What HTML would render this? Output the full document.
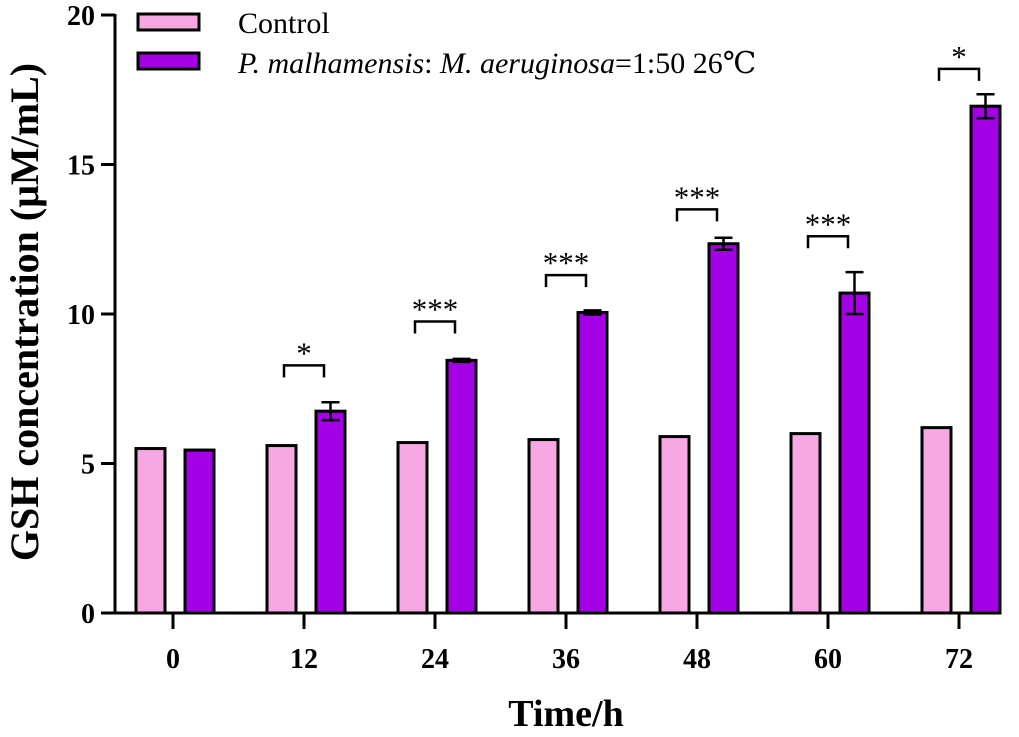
<!DOCTYPE html>
<html><head><meta charset="utf-8"><style>
body{margin:0;background:#fff;}
svg text{font-family:"Liberation Serif","DejaVu Serif",serif;}
</style></head><body>
<svg id="chart" width="1019" height="732" viewBox="0 0 1019 732" xmlns="http://www.w3.org/2000/svg">
<g id="plot"></g>
</svg>
<script>
const categories=["0","12","24","36","48","60","72"];
const controlValues=[5.5,5.6,5.7,5.8,5.9,6.0,6.2];
const treatValues=[5.45,6.75,8.45,10.05,12.35,10.7,16.95];
const treatErrors=[0,0.3,0.05,0.07,0.2,0.7,0.4];
const sigLabels=["","*","***","***","***","***","*"];
const sigLevels=[0,8.28,9.75,11.3,13.5,12.6,18.2];
const yTicks=[0,5,10,15,20];

const NS="http://www.w3.org/2000/svg";
const g=document.getElementById('plot');
const x0=115,yBase=613,yTop=15,yMax=20;
const y=v=>yBase-(yBase-yTop)*v/yMax;
const xc=i=>173+i*131;
function el(t,a,txt){const e=document.createElementNS(NS,t);for(const k in a)e.setAttribute(k,a[k]);if(txt!==undefined)e.textContent=txt;g.appendChild(e);return e;}

categories.forEach((c,i)=>{
  const cx=xc(i);
  const b1=el('rect',{x:cx-37,y:y(controlValues[i]),width:29,height:yBase-y(controlValues[i]),fill:'#f7a8e2',stroke:'#000','stroke-width':3});
  
  
  const b2=el('rect',{x:cx+12,y:y(treatValues[i]),width:29,height:yBase-y(treatValues[i]),fill:'#a400e6',stroke:'#000','stroke-width':3});
  
  
  if(treatErrors[i]>0){
    const ex=cx+26.5,hi=y(treatValues[i]+treatErrors[i]),lo=y(treatValues[i]-treatErrors[i]);
    const eb=el('path',{d:`M${ex},${hi}V${lo}M${ex-9},${hi}H${ex+9}M${ex-9},${lo}H${ex+9}`,stroke:'#000','stroke-width':2.5,fill:'none'});
    
    
  }
  if(sigLabels[i]){
    const by=y(sigLevels[i]);
    const br=el('path',{d:`M${cx-20},${by+12}V${by}H${cx+20}V${by+12}`,stroke:'#000','stroke-width':2.5,fill:'none'});
    
    
    const st=el('text',{x:cx,y:by-2,'text-anchor':'middle','font-size':31},sigLabels[i]);
    
    
  }
  const tk=el('line',{x1:cx,x2:cx,y1:yBase,y2:yBase+16,stroke:'#000','stroke-width':3});
  
  
  const tl=el('text',{x:cx,y:668,'text-anchor':'middle','font-size':28,'font-weight':'bold'},c);
  
  
});
yTicks.forEach(v=>{
  const t=el('line',{x1:x0-14,x2:x0,y1:y(v),y2:y(v),stroke:'#000','stroke-width':3});
  
  
  const l=el('text',{x:x0-20,y:y(v)+10,'text-anchor':'end','font-size':28,'font-weight':'bold'},String(v));
  
  
});
const ya=el('line',{x1:x0,x2:x0,y1:yTop-1,y2:yBase+1.5,stroke:'#000','stroke-width':3});


const xa=el('line',{x1:x0-1.5,x2:1000,y1:yBase,y2:yBase,stroke:'#000','stroke-width':3});


const xt=el('text',{x:566,y:726,'text-anchor':'middle','font-size':38,'font-weight':'bold'},'Time/h');


const yt=el('text',{x:0,y:0,transform:'translate(38,312) rotate(-90)','text-anchor':'middle','font-size':40,'font-weight':'bold'},'GSH concentration (μM/mL)');


// legend
const lg1=el('rect',{x:138,y:14,width:61,height:16,fill:'#f7a8e2',stroke:'#000','stroke-width':3});


const lt1=el('text',{x:238,y:33,'font-size':30},'Control');


const lg2=el('rect',{x:138,y:53,width:61,height:16,fill:'#a400e6',stroke:'#000','stroke-width':3});


const lt2=el('text',{x:238,y:73,'font-size':30});


lt2.innerHTML='<tspan font-style="italic">P. malhamensis</tspan>:  <tspan font-style="italic">M. aeruginosa</tspan>=1:50 26℃';
</script>
</body></html>
